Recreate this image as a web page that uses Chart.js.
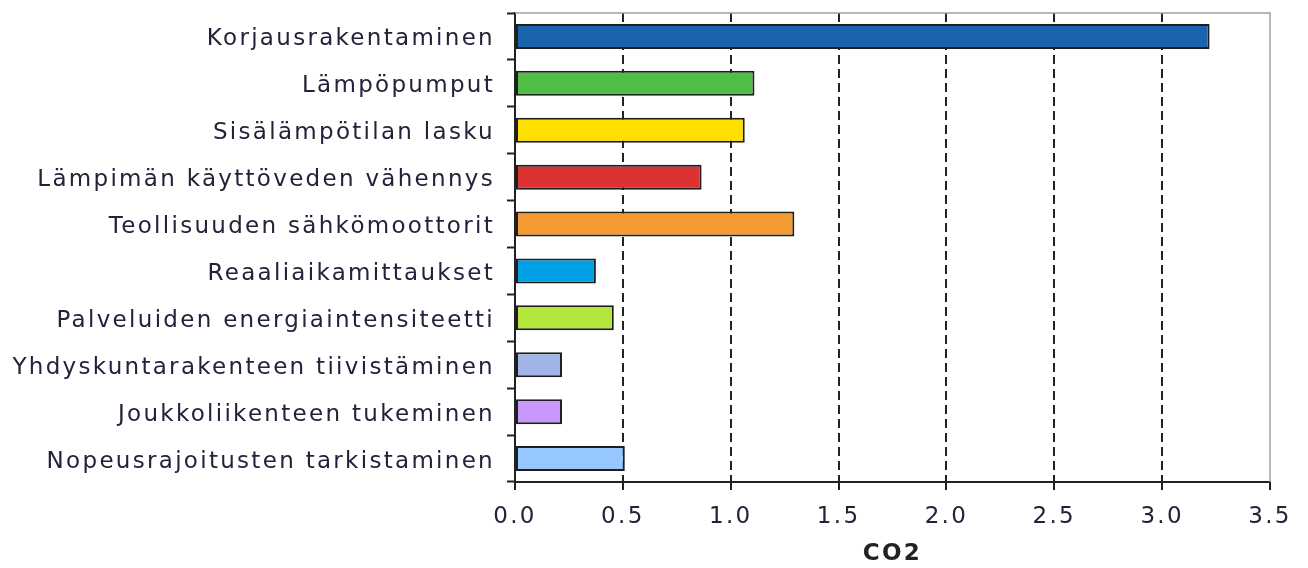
<!DOCTYPE html>
<html>
<head>
<meta charset="utf-8">
<script src="https://cdn.jsdelivr.net/npm/chart.js@4/dist/chart.umd.min.js"></script>
<style>
  html, body { margin: 0; padding: 0; background: #fff; }
  canvas { display: block; }
</style>
</head>
<body>
<canvas id="graph" width="1308" height="568"></canvas>
<script>
// Données
const categories = [
    'Korjausrakentaminen',
    'Lämpöpumput',
    'Sisälämpötilan lasku',
    'Lämpimän käyttöveden vähennys',
    'Teollisuuden sähkömoottorit',
    'Reaaliaikamittaukset',
    'Palveluiden energiaintensiteetti',
    'Yhdyskuntarakenteen tiivistäminen',
    'Joukkoliikenteen tukeminen',
    'Nopeusrajoitusten tarkistaminen'
];
const valeursCO2 = [3.22, 1.11, 1.065, 0.865, 1.295, 0.375, 0.458, 0.218, 0.218, 0.509];
const couleurs = [
    '#1a64ae', '#50be46', '#ffdf00', '#dc3232', '#f49a32',
    '#00a0e6', '#b4e63c', '#a0b4e6', '#c896ff', '#96c8ff'
];
const xMin = 0;
const xMax = 3.5;
const xPas = 0.5;
const titreX = 'CO2';

const police = 'DejaVu Sans, Verdana, sans-serif';

// Espacement des lettres + cadre gris en haut et à droite
const pluginStyle = {
    id: 'pluginStyle',
    beforeDraw(chart) {
        chart.ctx.letterSpacing = '2.3px';
    },
    afterDraw(chart) {
        const { ctx, chartArea } = chart;
        ctx.save();
        ctx.strokeStyle = '#a0a0a0';
        ctx.lineWidth = 1.5;
        ctx.beginPath();
        ctx.moveTo(chartArea.left, chartArea.top);
        ctx.lineTo(chartArea.right, chartArea.top);
        ctx.lineTo(chartArea.right, chartArea.bottom);
        ctx.stroke();
        ctx.restore();
    }
};

new Chart(document.getElementById('graph').getContext('2d'), {
    type: 'bar',
    data: {
        labels: categories,
        datasets: [{
            data: valeursCO2,
            backgroundColor: couleurs,
            borderColor: '#1e1e1e',
            borderWidth: 2,
            borderSkipped: false,
            barPercentage: 0.58,
            categoryPercentage: 0.92
        }]
    },
    options: {
        indexAxis: 'y',
        responsive: false,
        animation: false,
        layout: { padding: { top: 13, right: 38, left: 0, bottom: 0 } },
        plugins: {
            legend: { display: false },
            tooltip: { enabled: false }
        },
        scales: {
            x: {
                min: xMin,
                max: xMax,
                ticks: {
                    stepSize: xPas,
                    padding: 13,
                    color: '#22223a',
                    font: { family: police, size: 23 },
                    callback: v => Number(v).toFixed(1)
                },
                grid: {
                    color: ctx => (ctx.tick && (ctx.tick.value === xMin || ctx.tick.value === xMax)) ? 'rgba(0,0,0,0)' : '#222',
                    lineWidth: 2,
                    tickColor: '#222',
                    tickLength: 8,
                    tickBorderDash: [],
                    tickWidth: 2
                },
                border: { color: '#222', width: 2, dash: [9, 5] },
                title: {
                    display: true,
                    text: titreX,
                    color: '#222',
                    font: { family: police, size: 23, weight: 'bold' },
                    padding: { top: 0, bottom: 0 }
                },
                afterFit: scale => {
                    scale.height = 86;
                    scale.paddingLeft = 0;
                    scale.paddingRight = 0;
                }
            },
            y: {
                ticks: {
                    padding: 12,
                    labelOffset: 3,
                    color: '#22223a',
                    font: { family: police, size: 23 }
                },
                grid: {
                    offset: true,
                    drawOnChartArea: false,
                    tickColor: '#222',
                    tickLength: 8,
                    tickWidth: 2
                },
                border: { color: '#222', width: 2 },
                afterFit: scale => {
                    scale.width = 515;
                    scale.paddingTop = 0;
                    scale.paddingBottom = 0;
                }
            }
        }
    },
    plugins: [pluginStyle]
});
</script>
</body>
</html>
